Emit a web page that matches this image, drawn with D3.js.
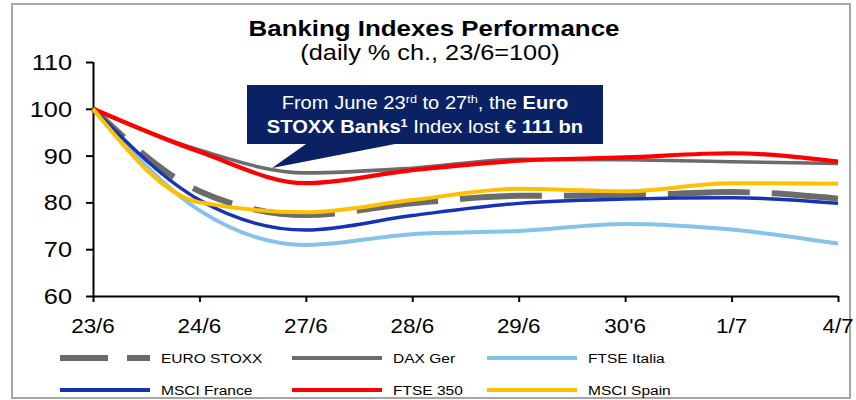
<!DOCTYPE html>
<html><head><meta charset="utf-8">
<script src="https://cdn.jsdelivr.net/npm/d3@7"></script>
<style>body{margin:0;background:#fff}svg{display:block;font-family:Arial,"Liberation Sans",sans-serif}</style>
</head><body>
<svg id="c" width="856" height="400"></svg>
<script>
const dates = ["23/6","24/6","27/6","28/6","29/6","30'6","1/7","4/7"];
const euroStoxx   = [100, 82.4, 77.3, 79.8, 81.4, 81.5, 82.2, 80.8];
const daxGer      = [100, 91.2, 86.3, 87.3, 89.2, 89.1, 88.7, 88.3];
const ftseItalia  = [100, 78.3, 70.9, 73.2, 73.9, 75.4, 74.2, 71.2];
const msciFrance  = [100, 80.5, 74.1, 77.2, 79.8, 80.7, 81.0, 79.8];
const ftse350     = [100, 90.8, 84.1, 86.9, 88.9, 89.6, 90.5, 88.7];
const msciSpain   = [100, 80.0, 77.9, 80.5, 82.9, 82.4, 84.1, 84.0];
const yTicks = [60, 70, 80, 90, 100, 110];
const seriesNames = ["EURO STOXX","DAX Ger","FTSE Italia","MSCI France","FTSE 350","MSCI Spain"];

const SX = 1.15;
const svg = d3.select("#c");
const DASH = "42,22,42,22,42,22,82,22,82,22,82,22,82,22,82,22,82,22,82,22,82,22";

const series = [
  {name: seriesNames[0], values: euroStoxx,  color: "#6b6b6b", width: 6,   dash: DASH, legDash: "48,19"},
  {name: seriesNames[1], values: daxGer,     color: "#6b6b6b", width: 3.6},
  {name: seriesNames[2], values: ftseItalia, color: "#86c3ea", width: 4},
  {name: seriesNames[3], values: msciFrance, color: "#1533b5", width: 3.4},
  {name: seriesNames[4], values: ftse350,    color: "#ff0000", width: 4.2},
  {name: seriesNames[5], values: msciSpain,  color: "#ffc000", width: 4}
];

function txt(g, x, y, s, size, anchor, weight, fill) {
  return g.append("text")
    .attr("transform", `translate(${x},${y}) scale(${SX},1)`)
    .attr("text-anchor", anchor || "start")
    .attr("font-size", size)
    .attr("font-weight", weight || "normal")
    .attr("fill", fill || "#000")
    .text(s);
}

// frame
svg.append("rect").attr("x", 12).attr("y", 4).attr("width", 838).attr("height", 394)
  .attr("fill", "#fff").attr("stroke", "#a6a6a6").attr("stroke-width", 2);

const x = d3.scalePoint().domain(dates).range([93, 838]);
const y = d3.scaleLinear().domain([60, 110]).range([296, 62]);

// title
txt(svg, 434, 36, "Banking Indexes Performance", 22.5, "middle", "bold");
txt(svg, 430, 60, "(daily % ch., 23/6=100)", 22, "middle");

// axes
const yAxis = svg.append("g").attr("transform", "translate(93,0)")
  .call(d3.axisLeft(y).tickValues(yTicks).tickSize(7).tickFormat(""));
const xAxis = svg.append("g").attr("transform", "translate(0,296)")
  .call(d3.axisBottom(x).tickSize(6).tickFormat(""));
[yAxis, xAxis].forEach(a => {
  a.select(".domain").attr("stroke", "#000").attr("stroke-width", 2);
  a.selectAll(".tick line").attr("stroke", "#000").attr("stroke-width", 2);
});
yAxis.select(".domain").attr("d", `M0.5,${y(110)}V${y(60)}`);
xAxis.select(".domain").attr("d", `M${x(dates[0])},0.5H${x(dates[dates.length-1])}`);

yTicks.forEach(v => txt(svg, 72, y(v) + 8, String(v), 22, "end"));
dates.forEach(d => txt(svg, x(d), 333, d, 19.5, "middle"));

// lines
const line = d3.line().x((v, i) => x(dates[i])).y(v => y(v)).curve(d3.curveMonotoneX);
const lg = svg.append("g").attr("fill", "none").attr("stroke-linejoin", "round");
series.forEach(s => {
  lg.append("path").attr("d", line(s.values))
    .attr("stroke", s.color).attr("stroke-width", s.width)
    .attr("stroke-dasharray", s.dash || null);
});

// callout
const cg = svg.append("g");
cg.append("path").attr("d", "M247,85H603V144H395L272,168L306,144H247Z").attr("fill", "#0a2264");
const t1 = cg.append("text").attr("transform", `translate(425,109) scale(${SX},1)`)
  .attr("text-anchor", "middle").attr("font-size", 17.5).attr("fill", "#fff");
t1.append("tspan").text("From June 23");
t1.append("tspan").attr("dy", -6).attr("font-size", 11).text("rd");
t1.append("tspan").attr("dy", 6).text(" to 27");
t1.append("tspan").attr("dy", -6).attr("font-size", 11).text("th");
t1.append("tspan").attr("dy", 6).text(", the ");
t1.append("tspan").attr("font-weight", "bold").text("Euro");
const t2 = cg.append("text").attr("transform", `translate(425,133) scale(${SX},1)`)
  .attr("text-anchor", "middle").attr("font-size", 17.5).attr("fill", "#fff");
t2.append("tspan").attr("font-weight", "bold").text("STOXX Banks");
t2.append("tspan").attr("font-weight", "bold").attr("dy", -6).attr("font-size", 11).text("1");
t2.append("tspan").attr("dy", 6).text(" Index lost ");
t2.append("tspan").attr("font-weight", "bold").text("€ 111 bn");

// legend
const legPos = [[60, 358], [292, 358], [487, 358], [60, 390], [292, 390], [487, 390]];
series.forEach((s, i) => {
  const [lx, ly] = legPos[i];
  svg.append("line").attr("x1", lx).attr("x2", lx + 90).attr("y1", ly).attr("y2", ly)
    .attr("stroke", s.color).attr("stroke-width", s.dash ? 6 : 4)
    .attr("stroke-dasharray", s.legDash || null);
  txt(svg, lx + 101, ly + 5, s.name, 13.5, "start");
});
</script>
</body></html>
